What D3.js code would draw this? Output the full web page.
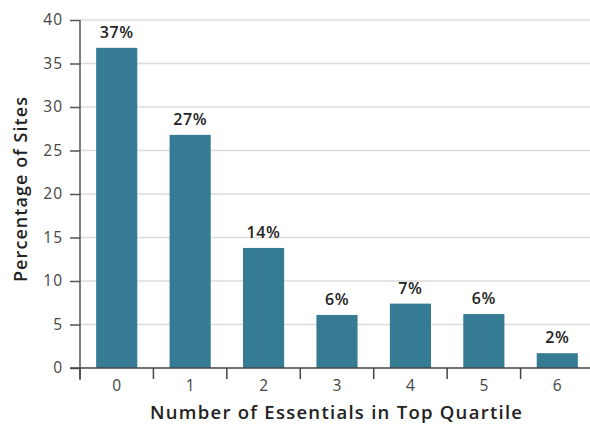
<!DOCTYPE html>
<html><head><meta charset="utf-8">
<script src="https://cdn.jsdelivr.net/npm/d3@7"></script>
<style>body{margin:0;background:#fff}svg{display:block}</style>
</head><body>
<svg id="c" width="590" height="424"></svg>
<script>
const categories = ["0","1","2","3","4","5","6"];
const values = [36.8, 26.8, 13.8, 6.1, 7.4, 6.2, 1.7];
const labels = ["37%","27%","14%","6%","7%","6%","2%"];
const yTicks = [0,5,10,15,20,25,30,35,40];

const svg = d3.select("#c");
const font = "'Open Sans', Lato, sans-serif";
const x = d3.scaleBand().domain(categories).range([80, 594]).paddingInner(0.44).paddingOuter(0.22);
const y = d3.scaleLinear().domain([0, 40]).range([368, 20]);

// gridlines
svg.append("g").selectAll("line").data(yTicks.filter(d => d > 0)).join("line")
  .attr("x1", 80).attr("x2", 590).attr("y1", d => y(d)).attr("y2", d => y(d))
  .attr("stroke", "#dcdcdc").attr("stroke-width", 1.5);

// bars
svg.append("g").selectAll("rect").data(values).join("rect")
  .attr("x", (d, i) => x(categories[i])).attr("width", x.bandwidth())
  .attr("y", d => y(d)).attr("height", d => y(0) - y(d))
  .attr("fill", "#347b93");

// value labels
svg.append("g").selectAll("text").data(values).join("text")
  .attr("x", (d, i) => x(categories[i]) + x.bandwidth() / 2)
  .attr("y", d => y(d) - 10)
  .attr("text-anchor", "middle")
  .attr("font-family", font).attr("font-weight", 600).attr("font-size", 16)
  .attr("letter-spacing", 0.6)
  .attr("fill", "#222")
  .text((d, i) => labels[i]);

// y axis
const ya = svg.append("g").attr("transform", "translate(80,0)")
  .call(d3.axisLeft(y).tickValues(yTicks).tickSize(10).tickPadding(7));
ya.select(".domain").remove();
ya.selectAll(".tick line").attr("stroke", "#555").attr("stroke-width", 1.5);
ya.selectAll("text").attr("font-family", font).attr("font-size", 15.5)
  .attr("letter-spacing", 1).attr("fill", "#444");
svg.append("line").attr("x1", 80).attr("x2", 80).attr("y1", 20).attr("y2", 380)
  .attr("stroke", "#555").attr("stroke-width", 1.5);

// x axis
const xb = d3.scaleLinear().domain([0, 7]).range([80, 594]);
svg.append("g").selectAll("line").data(d3.range(0, 8)).join("line")
  .attr("x1", d => xb(d)).attr("x2", d => xb(d)).attr("y1", 368).attr("y2", 379)
  .attr("stroke", "#444").attr("stroke-width", 1.5);
svg.append("line").attr("x1", 70).attr("x2", 590).attr("y1", 368).attr("y2", 368)
  .attr("stroke", "#444").attr("stroke-width", 1.5);
svg.append("g").selectAll("text").data(categories).join("text")
  .attr("x", d => x(d) + x.bandwidth() / 2).attr("y", 391)
  .attr("text-anchor", "middle")
  .attr("font-family", font).attr("font-size", 15.5).attr("fill", "#444")
  .text(d => d);

// axis titles
svg.append("text").attr("x", 150).attr("y", 419)
  .attr("textLength", 372).attr("lengthAdjust", "spacing")
  .attr("font-family", font).attr("font-weight", 600).attr("font-size", 18.5).attr("fill", "#222")
  .text("Number of Essentials in Top Quartile");
svg.append("text").attr("transform", "translate(27,282) rotate(-90)")
  .attr("textLength", 185).attr("lengthAdjust", "spacing")
  .attr("font-family", font).attr("font-weight", 600).attr("font-size", 18).attr("fill", "#222")
  .text("Percentage of Sites");
</script>
</body></html>
